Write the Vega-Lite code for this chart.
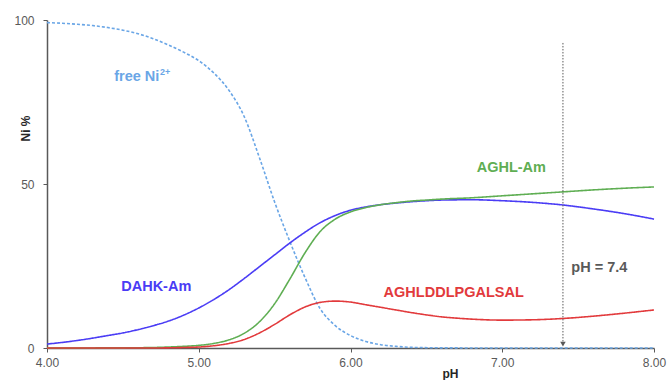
{
  "$schema": "https://vega.github.io/schema/vega-lite/v6.json",
  "width": 607,
  "height": 328,
  "autosize": {"type": "none"},
  "padding": {"left": 47, "top": 20, "right": 17, "bottom": 32},
  "background": "white",
  "config": {
    "view": {"stroke": null},
    "font": "Liberation Sans",
    "axis": {"grid": false, "domainColor": "#595959", "domainWidth": 1.5, "tickColor": "#595959", "tickSize": 4, "labelColor": "#595959", "labelFontSize": 12, "labelFont": "Liberation Sans", "titleFont": "Liberation Sans", "titleFontSize": 12, "titleFontWeight": "bold", "titleColor": "#262626", "labelFlush": false}
  },
  "datasets": {
    "curves": [
      {"series": "free", "pH": 4.0, "pct": 99.2},
      {"series": "free", "pH": 4.1, "pct": 99.0},
      {"series": "free", "pH": 4.2, "pct": 98.7},
      {"series": "free", "pH": 4.3, "pct": 98.3},
      {"series": "free", "pH": 4.4, "pct": 97.7},
      {"series": "free", "pH": 4.5, "pct": 96.9},
      {"series": "free", "pH": 4.6, "pct": 95.8},
      {"series": "free", "pH": 4.7, "pct": 94.3},
      {"series": "free", "pH": 4.8, "pct": 92.4},
      {"series": "free", "pH": 4.9, "pct": 90.2},
      {"series": "free", "pH": 5.0, "pct": 87.6},
      {"series": "free", "pH": 5.1, "pct": 83.8},
      {"series": "free", "pH": 5.2, "pct": 78.5},
      {"series": "free", "pH": 5.3, "pct": 70.5},
      {"series": "free", "pH": 5.4, "pct": 58.0},
      {"series": "free", "pH": 5.5, "pct": 44.5},
      {"series": "free", "pH": 5.6, "pct": 32.5},
      {"series": "free", "pH": 5.7, "pct": 21.5},
      {"series": "free", "pH": 5.8, "pct": 12.0},
      {"series": "free", "pH": 5.9, "pct": 6.8},
      {"series": "free", "pH": 6.0, "pct": 3.8},
      {"series": "free", "pH": 6.1, "pct": 2.0},
      {"series": "free", "pH": 6.2, "pct": 1.0},
      {"series": "free", "pH": 6.3, "pct": 0.5},
      {"series": "free", "pH": 6.4, "pct": 0.2},
      {"series": "free", "pH": 6.6, "pct": 0.05},
      {"series": "free", "pH": 7.0, "pct": 0.0},
      {"series": "free", "pH": 8.0, "pct": 0.0},

      {"series": "DAHK", "pH": 4.0, "pct": 1.2},
      {"series": "DAHK", "pH": 4.1, "pct": 1.7},
      {"series": "DAHK", "pH": 4.2, "pct": 2.3},
      {"series": "DAHK", "pH": 4.3, "pct": 3.0},
      {"series": "DAHK", "pH": 4.4, "pct": 3.8},
      {"series": "DAHK", "pH": 4.5, "pct": 4.6},
      {"series": "DAHK", "pH": 4.6, "pct": 5.6},
      {"series": "DAHK", "pH": 4.7, "pct": 6.8},
      {"series": "DAHK", "pH": 4.8, "pct": 8.2},
      {"series": "DAHK", "pH": 4.9, "pct": 10.0},
      {"series": "DAHK", "pH": 5.0, "pct": 12.2},
      {"series": "DAHK", "pH": 5.1, "pct": 14.8},
      {"series": "DAHK", "pH": 5.2, "pct": 17.8},
      {"series": "DAHK", "pH": 5.3, "pct": 21.2},
      {"series": "DAHK", "pH": 5.4, "pct": 24.8},
      {"series": "DAHK", "pH": 5.5, "pct": 28.4},
      {"series": "DAHK", "pH": 5.6, "pct": 32.0},
      {"series": "DAHK", "pH": 5.7, "pct": 35.3},
      {"series": "DAHK", "pH": 5.8, "pct": 38.2},
      {"series": "DAHK", "pH": 5.9, "pct": 40.4},
      {"series": "DAHK", "pH": 6.0, "pct": 42.0},
      {"series": "DAHK", "pH": 6.1, "pct": 43.0},
      {"series": "DAHK", "pH": 6.2, "pct": 43.7},
      {"series": "DAHK", "pH": 6.3, "pct": 44.2},
      {"series": "DAHK", "pH": 6.4, "pct": 44.6},
      {"series": "DAHK", "pH": 6.5, "pct": 44.9},
      {"series": "DAHK", "pH": 6.6, "pct": 45.1},
      {"series": "DAHK", "pH": 6.8, "pct": 45.2},
      {"series": "DAHK", "pH": 7.0, "pct": 44.9},
      {"series": "DAHK", "pH": 7.2, "pct": 44.4},
      {"series": "DAHK", "pH": 7.4, "pct": 43.6},
      {"series": "DAHK", "pH": 7.6, "pct": 42.4},
      {"series": "DAHK", "pH": 7.8, "pct": 41.0},
      {"series": "DAHK", "pH": 8.0, "pct": 39.3},

      {"series": "AGHL", "pH": 4.0, "pct": 0.0},
      {"series": "AGHL", "pH": 4.5, "pct": 0.05},
      {"series": "AGHL", "pH": 4.7, "pct": 0.15},
      {"series": "AGHL", "pH": 4.8, "pct": 0.3},
      {"series": "AGHL", "pH": 4.9, "pct": 0.5},
      {"series": "AGHL", "pH": 5.0, "pct": 0.8},
      {"series": "AGHL", "pH": 5.1, "pct": 1.4},
      {"series": "AGHL", "pH": 5.2, "pct": 2.5},
      {"series": "AGHL", "pH": 5.3, "pct": 4.5},
      {"series": "AGHL", "pH": 5.4, "pct": 8.0},
      {"series": "AGHL", "pH": 5.5, "pct": 13.5},
      {"series": "AGHL", "pH": 5.6, "pct": 21.0},
      {"series": "AGHL", "pH": 5.7, "pct": 29.0},
      {"series": "AGHL", "pH": 5.8, "pct": 35.5},
      {"series": "AGHL", "pH": 5.9, "pct": 39.3},
      {"series": "AGHL", "pH": 6.0, "pct": 41.5},
      {"series": "AGHL", "pH": 6.1, "pct": 42.8},
      {"series": "AGHL", "pH": 6.2, "pct": 43.7},
      {"series": "AGHL", "pH": 6.3, "pct": 44.3},
      {"series": "AGHL", "pH": 6.4, "pct": 44.8},
      {"series": "AGHL", "pH": 6.5, "pct": 45.1},
      {"series": "AGHL", "pH": 6.6, "pct": 45.4},
      {"series": "AGHL", "pH": 6.8, "pct": 45.8},
      {"series": "AGHL", "pH": 7.0, "pct": 46.4},
      {"series": "AGHL", "pH": 7.2, "pct": 47.0},
      {"series": "AGHL", "pH": 7.4, "pct": 47.6},
      {"series": "AGHL", "pH": 7.6, "pct": 48.2},
      {"series": "AGHL", "pH": 7.8, "pct": 48.7},
      {"series": "AGHL", "pH": 8.0, "pct": 49.1},

      {"series": "AGHLDD", "pH": 4.0, "pct": 0.0},
      {"series": "AGHLDD", "pH": 4.7, "pct": 0.0},
      {"series": "AGHLDD", "pH": 4.8, "pct": 0.05},
      {"series": "AGHLDD", "pH": 4.9, "pct": 0.15},
      {"series": "AGHLDD", "pH": 5.0, "pct": 0.3},
      {"series": "AGHLDD", "pH": 5.1, "pct": 0.7},
      {"series": "AGHLDD", "pH": 5.2, "pct": 1.4},
      {"series": "AGHLDD", "pH": 5.3, "pct": 2.6},
      {"series": "AGHLDD", "pH": 5.4, "pct": 4.6},
      {"series": "AGHLDD", "pH": 5.5, "pct": 7.2},
      {"series": "AGHLDD", "pH": 5.6, "pct": 10.1},
      {"series": "AGHLDD", "pH": 5.7, "pct": 12.5},
      {"series": "AGHLDD", "pH": 5.8, "pct": 13.9},
      {"series": "AGHLDD", "pH": 5.9, "pct": 14.3},
      {"series": "AGHLDD", "pH": 6.0, "pct": 14.0},
      {"series": "AGHLDD", "pH": 6.1, "pct": 13.2},
      {"series": "AGHLDD", "pH": 6.2, "pct": 12.4},
      {"series": "AGHLDD", "pH": 6.3, "pct": 11.6},
      {"series": "AGHLDD", "pH": 6.4, "pct": 10.8},
      {"series": "AGHLDD", "pH": 6.5, "pct": 10.1},
      {"series": "AGHLDD", "pH": 6.6, "pct": 9.5},
      {"series": "AGHLDD", "pH": 6.7, "pct": 9.1},
      {"series": "AGHLDD", "pH": 6.8, "pct": 8.8},
      {"series": "AGHLDD", "pH": 7.0, "pct": 8.5},
      {"series": "AGHLDD", "pH": 7.2, "pct": 8.6},
      {"series": "AGHLDD", "pH": 7.4, "pct": 9.0},
      {"series": "AGHLDD", "pH": 7.6, "pct": 9.7},
      {"series": "AGHLDD", "pH": 7.8, "pct": 10.6},
      {"series": "AGHLDD", "pH": 8.0, "pct": 11.6}
    ],
    "labels": [
      {"series": "DAHK", "pH": 4.72, "pct": 18.6, "text": "DAHK-Am"},
      {"series": "AGHL", "pH": 7.06, "pct": 54.9, "text": "AGHL-Am"},
      {"series": "AGHLDD", "pH": 6.68, "pct": 16.8, "text": "AGHLDDLPGALSAL"},
      {"series": "marker", "pH": 7.64, "pct": 24.4, "text": "pH = 7.4"}
    ],
    "freeLabel": [
      {"series": "free", "pH": 4.74, "pct": 82.6, "text": "free Ni"}
    ],
    "superscript": [
      {"series": "free", "pH": 4.745, "pct": 84.2, "text": "2+"}
    ],
    "marker": [
      {"pH": 7.4, "top": 93.0, "bottom": 1.2}
    ]
  },
  "layer": [
    {
      "data": {"name": "curves"},
      "mark": {"type": "line", "interpolate": "monotone", "strokeWidth": 1.6},
      "encoding": {
        "x": {"field": "pH", "type": "quantitative", "scale": {"domain": [4, 8], "nice": false, "zero": false},
              "axis": {"values": [4, 5, 6, 7, 8], "format": ".2f", "title": "pH", "labelPadding": 5, "titleX": 403, "titleY": 29, "titleAnchor": null, "titleAlign": "center", "titleBaseline": "alphabetic"}},
        "y": {"field": "pct", "type": "quantitative", "scale": {"domain": [0, 100], "nice": false},
              "axis": {"values": [0, 50, 100], "title": "Ni %", "labelPadding": 9, "titleX": -22, "titleY": 108, "titleAngle": -90, "titleAlign": "center", "titleBaseline": "middle"}},
        "color": {"field": "series", "type": "nominal", "legend": null,
                  "scale": {"domain": ["free", "DAHK", "AGHL", "AGHLDD", "marker"], "range": ["#6aa6e6", "#4a3cf5", "#5fae53", "#e23a3c", "#595959"]}},
        "strokeDash": {"field": "series", "type": "nominal", "legend": null,
                       "scale": {"domain": ["free", "DAHK", "AGHL", "AGHLDD"], "range": [[3, 2], [1, 0], [1, 0], [1, 0]]}},
        "detail": {"field": "series"}
      }
    },
    {
      "data": {"name": "marker"},
      "mark": {"type": "rule", "color": "#595959", "strokeWidth": 1, "strokeDash": [1.5, 1.5]},
      "encoding": {
        "x": {"field": "pH", "type": "quantitative"},
        "y": {"field": "top", "type": "quantitative"},
        "y2": {"field": "bottom"}
      }
    },
    {
      "data": {"name": "marker"},
      "mark": {"type": "point", "shape": "triangle-down", "filled": true, "color": "#595959", "size": 30, "opacity": 1},
      "encoding": {
        "x": {"field": "pH", "type": "quantitative"},
        "y": {"field": "bottom", "type": "quantitative"}
      }
    },
    {
      "data": {"name": "labels"},
      "mark": {"type": "text", "fontWeight": "bold", "fontSize": 14.5, "align": "center", "baseline": "middle"},
      "encoding": {
        "x": {"field": "pH", "type": "quantitative"},
        "y": {"field": "pct", "type": "quantitative"},
        "text": {"field": "text"},
        "color": {"field": "series", "type": "nominal", "legend": null}
      }
    },
    {
      "data": {"name": "freeLabel"},
      "mark": {"type": "text", "fontWeight": "bold", "fontSize": 14.5, "align": "right", "baseline": "middle"},
      "encoding": {
        "x": {"field": "pH", "type": "quantitative"},
        "y": {"field": "pct", "type": "quantitative"},
        "text": {"field": "text"},
        "color": {"field": "series", "type": "nominal", "legend": null}
      }
    },
    {
      "data": {"name": "superscript"},
      "mark": {"type": "text", "fontWeight": "bold", "fontSize": 9, "align": "left", "baseline": "middle"},
      "encoding": {
        "x": {"field": "pH", "type": "quantitative"},
        "y": {"field": "pct", "type": "quantitative"},
        "text": {"field": "text"},
        "color": {"field": "series", "type": "nominal", "legend": null}
      }
    }
  ]
}
